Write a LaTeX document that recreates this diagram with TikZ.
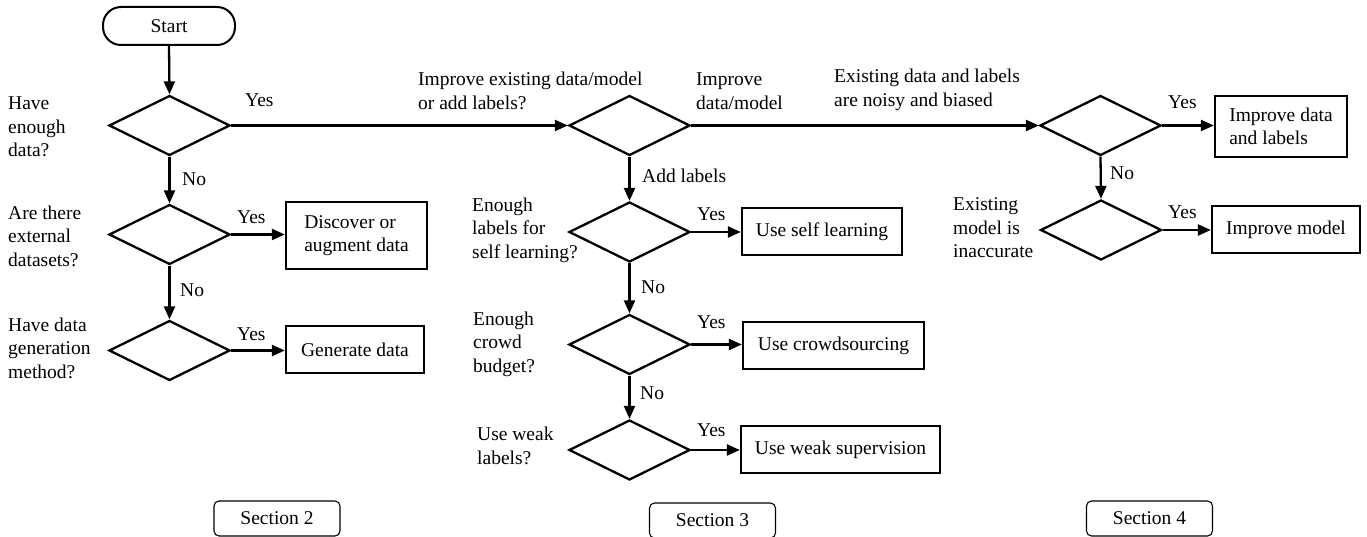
\documentclass[tikz,border=0pt]{standalone}
\usepackage{fontspec}
\setmainfont{Liberation Serif}
\usetikzlibrary{arrows.meta,shapes.geometric}
\begin{document}
\begin{tikzpicture}[x=1pt,y=-1pt,
  font=\fontsize{19.5}{23.5}\selectfont,
  dec/.style={draw,diamond,aspect=2,inner sep=0pt,minimum width=121pt,minimum height=60pt,line width=2.3pt},
  act/.style={draw,rectangle,inner sep=0pt,line width=2.3pt},
  sect/.style={draw,rectangle,rounded corners=5pt,inner sep=0pt,line width=1.1pt,minimum width=126pt,minimum height=35pt},
  term/.style={draw,rectangle,rounded corners=18pt,inner sep=0pt,line width=2pt,minimum width=132pt,minimum height=38pt},
  lbl/.style={anchor=west,inner sep=0pt,align=left},
  conn/.style={line width=2.3pt,-{Triangle[length=13pt,width=11pt]}}
]
\path[use as bounding box] (0,0) rectangle (1367,537);

% terminal
\node[term] (start) at (169,26) {Start};

% decisions
\node[dec] (d1) at (169.5,125.5) {};
\node[dec] (d2) at (169.5,234.5) {};
\node[dec] (d3) at (169.5,350.5) {};
\node[dec] (d4) at (629.5,125.5) {};
\node[dec] (d5) at (629.5,232) {};
\node[dec] (d8) at (629.5,344.5) {};
\node[dec] (d9) at (629.5,450) {};
\node[dec] (d6) at (1100.5,125.5) {};
\node[dec] (d7) at (1101,230) {};

% actions
\node[act,minimum width=141pt,minimum height=67pt,align=left] (bDisc) at (356.5,235.5) {Discover or\\augment data};
\node[act,minimum width=138pt,minimum height=47pt] (bGen) at (355,349.5) {Generate data};
\node[act,minimum width=160pt,minimum height=47pt] (bSelf) at (822,231.5) {Use self learning};
\node[act,minimum width=181pt,minimum height=47pt] (bCrowd) at (833.5,345.5) {Use crowdsourcing};
\node[act,minimum width=199pt,minimum height=47pt] (bWeak) at (840.5,449.5) {Use weak supervision};
\node[act,minimum width=132pt,minimum height=61pt,align=left] (bImpDL) at (1281,126.5) {Improve data\\and labels};
\node[act,minimum width=148pt,minimum height=47pt] (bImpM) at (1286,229.5) {Improve model};

% sections
\node[sect] (s2) at (277,518.5) {Section 2};
\node[sect] (s3) at (712.5,520.5) {Section 3};
\node[sect] (s4) at (1149.5,518.5) {Section 4};

% question texts
\node[lbl] (q1) at (8,127) {Have\\enough\\data?};
\node[lbl] (q2) at (8,236) {Are there\\external\\datasets?};
\node[lbl] (q3) at (8,348) {Have data\\generation\\method?};
\node[lbl] (q4) at (418,91) {Improve existing data/model\\or add labels?};
\node[lbl] (q4b) at (696,91) {Improve\\data/model};
\node[lbl] (q6) at (834,90) {Existing data and labels\\are noisy and biased};
\node[lbl] (q4c) at (642,176) {Add labels};
\node[lbl] (q5) at (472,230) {Enough\\labels for\\self learning?};
\node[lbl] (q8) at (473,344) {Enough\\crowd\\budget?};
\node[lbl] (q9) at (477,446) {Use weak\\labels?};
\node[lbl] (q7) at (953,228) {Existing\\model is\\inaccurate};

% yes / no labels
\node[lbl] (y1) at (245,100) {Yes};
\node[lbl] (y2) at (237,217) {Yes};
\node[lbl] (y3) at (237,334) {Yes};
\node[lbl] (y5) at (697,214) {Yes};
\node[lbl] (y8) at (697,322) {Yes};
\node[lbl] (y9) at (697,430) {Yes};
\node[lbl] (y6) at (1168,102) {Yes};
\node[lbl] (y7) at (1168,212) {Yes};
\node[lbl] (n1) at (182,179) {No};
\node[lbl] (n2) at (180,290) {No};
\node[lbl] (n5) at (641,287) {No};
\node[lbl] (n8) at (640,393) {No};
\node[lbl] (n6) at (1110,173) {No};

% connectors
\draw[conn] (start.south) -- (d1.north);
\draw[conn] (d1.south) -- (d2.north);
\draw[conn] (d2.south) -- (d3.north);
\draw[conn] (d1.east) -- (d4.west);
\draw[conn] (d4.east) -- (d6.west);
\draw[conn] (d4.south) -- (d5.north);
\draw[conn] (d5.south) -- (d8.north);
\draw[conn] (d8.south) -- (d9.north);
\draw[conn] (d6.south) -- (d7.north);
\draw[conn] (d2.east) -- (d2.east -| bDisc.west);
\draw[conn] (d3.east) -- (d3.east -| bGen.west);
\draw[conn] (d5.east) -- (d5.east -| bSelf.west);
\draw[conn] (d8.east) -- (d8.east -| bCrowd.west);
\draw[conn] (d9.east) -- (d9.east -| bWeak.west);
\draw[conn] (d6.east) -- (d6.east -| bImpDL.west);
\draw[conn] (d7.east) -- (d7.east -| bImpM.west);
\end{tikzpicture}
\end{document}
